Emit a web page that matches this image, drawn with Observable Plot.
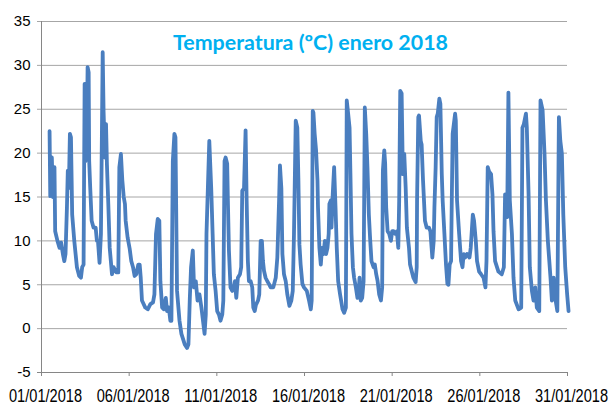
<!DOCTYPE html>
<html><head><meta charset="utf-8">
<script src="https://cdn.jsdelivr.net/npm/d3@7"></script>
<script src="https://cdn.jsdelivr.net/npm/@observablehq/plot@0.6"></script>
<style>body{margin:0;background:#fff}</style>
</head><body><div id="chart"></div>
<script>
// fractional days since 01/01/2018 00:00
const day = [
0.46,0.50,0.59,0.65,0.69,0.72,0.74,0.78,0.91,1.03,1.12,1.22,1.30,1.37,1.45,1.50,1.56,1.62,1.68,1.75,1.87,
2.02,2.15,2.25,2.32,2.40,2.46,2.51,2.55,2.57,2.63,2.69,2.72,2.78,2.86,2.97,3.09,3.16,3.22,3.31,3.39,3.49,
3.54,3.62,3.68,3.73,3.81,3.89,4.02,4.11,4.27,4.38,4.44,4.53,4.61,4.69,4.76,4.80,4.91,5.03,5.12,5.22,5.31,
5.41,5.52,5.60,5.66,5.73,5.92,6.06,6.21,6.36,6.44,6.53,6.63,6.72,6.78,6.88,6.97,7.09,7.16,7.26,7.35,7.41,
7.43,7.49,7.58,7.64,7.73,7.87,7.98,8.17,8.30,8.38,8.46,8.53,8.63,8.70,8.80,8.90,9.01,9.12,9.30,9.37,9.41,
9.49,9.57,9.68,9.76,9.83,9.93,10.02,10.12,10.21,10.31,10.37,10.44,10.50,10.59,10.63,10.69,10.78,10.88,10.97,
11.03,11.11,11.20,11.32,11.39,11.45,11.55,11.64,11.70,11.77,11.83,11.93,12.02,12.08,12.16,12.23,12.35,12.42,
12.50,12.57,12.63,12.69,12.78,12.88,12.97,13.07,13.22,13.36,13.45,13.55,13.60,13.68,13.74,13.83,13.93,14.02,
14.14,14.25,14.33,14.40,14.50,14.59,14.65,14.71,14.78,14.88,14.97,15.13,15.26,15.36,15.41,15.47,15.51,15.58,
15.66,15.74,15.77,15.85,15.93,16.00,16.08,16.16,16.23,16.31,16.38,16.42,16.50,16.54,16.61,16.69,16.77,16.84,
16.92,17.03,17.17,17.26,17.36,17.41,17.49,17.57,17.62,17.68,17.76,17.83,17.93,18.02,18.08,18.14,18.21,18.29,
18.37,18.40,18.44,18.52,18.59,18.67,18.75,18.82,18.94,19.01,19.09,19.17,19.26,19.36,19.43,19.47,19.55,19.60,
19.66,19.74,19.83,19.93,20.00,20.08,20.17,20.27,20.35,20.40,20.46,20.54,20.61,20.69,20.77,20.84,20.96,21.02,
21.21,21.34,21.40,21.42,21.49,21.53,21.63,21.68,21.76,21.87,21.97,22.10,22.18,22.25,22.29,22.37,22.41,22.48,
22.54,22.60,22.69,22.75,22.83,22.88,22.98,23.07,23.15,23.21,23.28,23.36,23.40,23.45,23.59,23.63,23.70,23.82,
23.93,24.01,24.08,24.16,24.27,24.41,24.48,24.60,24.67,24.77,24.84,24.96,25.07,25.21,25.32,25.38,25.45,25.53,
25.64,25.72,25.78,25.87,26.06,26.25,26.37,26.44,26.48,26.56,26.63,26.71,26.83,26.92,27.02,27.21,27.36,27.43,
27.51,27.63,27.68,27.78,27.85,27.97,28.06,28.16,28.25,28.39,28.46,28.58,28.69,28.77,28.88,29.03,29.11,29.21,
29.30,29.42,29.51,29.59,29.68,29.76,29.87,29.98,30.06
];
// temperature, ºC
const temp = [
22.5,15.1,19.5,15.0,18.4,15.3,18.4,11.1,10.0,9.2,9.8,8.5,7.7,8.5,13.8,18.0,16.0,22.2,21.8,13.0,10.0,
7.0,6.0,5.8,7.0,7.3,27.9,19.1,27.9,19.5,29.8,29.2,19.1,16.0,12.3,11.5,11.5,10.0,10.0,7.5,10.8,31.5,
24.8,19.5,23.3,18.8,14.2,9.2,6.2,7.0,6.4,6.4,18.4,19.9,16.9,15.0,14.2,12.3,10.4,9.1,7.7,7.0,6.0,
6.2,7.3,7.3,5.8,3.2,2.4,2.2,2.8,3.0,3.9,10.8,12.5,12.3,5.4,2.4,2.2,3.5,2.0,2.4,0.9,0.9,
5.4,19.1,22.2,21.8,4.3,0.9,-0.6,-1.8,-2.2,-1.8,3.5,7.0,8.9,4.7,5.4,3.2,3.9,2.4,-0.6,1.6,10.8,
16.1,21.4,16.0,10.8,6.2,4.3,2.0,1.6,0.9,1.6,3.2,19.1,19.5,18.8,14.6,8.9,4.7,4.3,4.7,
5.4,3.5,5.8,6.2,7.0,15.7,16.0,22.6,14.6,7.7,5.4,5.4,4.7,2.4,2.0,2.7,3.2,3.9,
10.0,10.0,7.7,6.6,5.8,5.4,5.1,4.7,4.7,5.8,8.1,14.6,18.6,16.0,8.5,6.2,5.4,3.9,
2.6,3.2,4.3,10.8,23.7,22.9,17.2,9.6,7.3,5.1,4.7,4.3,3.2,2.2,3.2,24.8,24.6,22.2,
20.3,16.9,13.8,9.2,7.3,9.2,8.5,10.0,8.5,9.2,10.8,14.2,14.6,11.5,15.3,18.4,13.8,9.2,
5.4,3.9,2.2,1.8,2.4,26.0,24.5,22.9,17.6,10.8,7.0,5.8,4.7,3.5,3.9,5.8,3.2,3.5,
5.4,13.8,25.2,22.2,18.4,13.0,10.0,7.7,7.0,7.3,6.2,5.4,3.9,3.2,4.7,18.0,20.3,18.8,
13.8,11.1,10.8,10.0,11.1,11.1,10.8,11.1,9.2,14.6,27.1,26.8,17.6,19.9,16.1,11.5,9.2,7.3,
5.8,5.3,7.0,14.6,24.1,24.3,21.4,21.0,16.9,12.3,11.5,11.5,11.1,9.2,8.1,10.0,13.8,18.4,
24.1,24.5,26.2,25.6,17.6,14.6,10.8,7.3,5.1,5.0,7.3,7.7,14.6,22.2,24.5,23.7,14.6,10.8,
7.7,7.0,8.5,8.1,8.5,8.1,9.2,13.0,12.3,10.0,7.7,6.5,6.2,5.8,4.7,7.7,18.4,17.9,
17.6,15.3,11.1,7.7,6.5,6.2,7.0,15.3,14.0,12.7,26.9,14.6,10.8,5.8,3.2,2.2,2.4,22.9,
23.3,24.5,22.9,15.3,7.0,4.3,3.2,4.7,2.4,2.0,26.0,24.9,19.9,14.6,10.0,5.8,3.2,5.8,
3.5,2.0,24.1,21.4,19.9,13.0,7.0,3.9,2.0
];
const yTicks = [-5, 0, 5, 10, 15, 20, 25, 30, 35];
const xTickDays = [0, 5, 10, 15, 20, 25, 30];
const title = "Temperatura (ºC) enero 2018";

const start = Date.UTC(2018, 0, 1);
const toDate = d => new Date(start + d * 864e5);
const data = day.map((d, i) => ({date: toDate(d), temp: temp[i]}));
const xTicks = xTickDays.map(toDate);
const fmt = d3.utcFormat("%d/%m/%Y");

const plot = Plot.plot({
  width: 614, height: 405,
  marginLeft: 41, marginRight: 47, marginTop: 21, marginBottom: 33,
  style: {fontFamily: "'Liberation Sans', Arial, sans-serif", fontSize: "15px", color: "#000", background: "#fff", overflow: "visible"},
  x: {type: "utc", domain: [xTicks[0], xTicks[xTicks.length - 1]], label: null},
  y: {domain: [-5, 35], label: null},
  marks: [
    Plot.ruleY(yTicks, {stroke: "#a6a6a6", strokeWidth: 1, insetLeft: -4}),
    Plot.ruleX([xTicks[0]], {stroke: "#868686", strokeWidth: 1}),
    Plot.ruleY([-5], {stroke: "#868686", strokeWidth: 1, insetLeft: -4}),
    Plot.axisY({ticks: yTicks, tickSize: 0, tickPadding: 11, tickFormat: d => String(d), fontSize: 15, label: null}),
    Plot.axisX({ticks: xTicks, tickSize: 4, stroke: "#868686", text: null, label: null}),
    Plot.text(xTicks, {x: d => d, text: d => fmt(d), frameAnchor: "bottom", lineAnchor: "top", dy: 17, dx: 4,
      fontFamily: "'Liberation Sans', sans-serif", fontSize: 18, fill: "#000"}),
    Plot.line(data, {x: "date", y: "temp", stroke: "#4a7ebf", strokeWidth: 3.8, strokeLinejoin: "round", strokeLinecap: "round"}),
    Plot.text([title], {frameAnchor: "top", lineAnchor: "bottom", dx: 6, dy: 28, fill: "#00b0f0",
      fontWeight: "bold", fontSize: 20, fontFamily: "Lato, 'Open Sans', sans-serif"})
  ]
});
// narrow the date labels and the title to the reference's widths
d3.select(plot).selectAll("text")
  .filter(function () { return /^\d\d\/\d\d\/2018$/.test(this.textContent); })
  .attr("textLength", 73).attr("lengthAdjust", "spacingAndGlyphs");
d3.select(plot).selectAll("text")
  .filter(function () { return this.textContent === title; })
  .attr("textLength", 275).attr("lengthAdjust", "spacingAndGlyphs");
document.getElementById("chart").appendChild(plot);
</script>
</body></html>
